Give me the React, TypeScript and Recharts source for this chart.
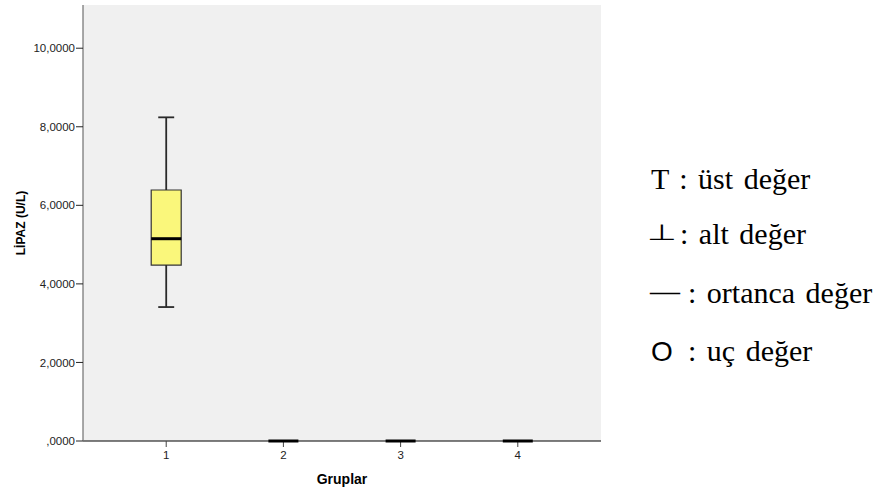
import React from 'react';
import {
  ComposedChart,
  XAxis,
  YAxis,
  CartesianGrid,
  ReferenceArea,
  ReferenceLine,
  Scatter,
} from 'recharts';

// ---- data ----
const groups = [1, 2, 3, 4];
const mins = [3.41, 0, 0, 0];
const q1s = [4.48, 0, 0, 0];
const medians = [5.15, 0, 0, 0];
const q3s = [6.39, 0, 0, 0];
const maxs = [8.24, 0, 0, 0];
const yTicks = [0, 2, 4, 6, 8, 10];
const xTicks = [1, 2, 3, 4];
const yLabel = 'LİPAZ (U/L)';
const xLabel = 'Gruplar';
const legendRows = ['T : üst değer', ': alt değer', ': ortanca değer', ': uç değer'];

const data = groups.map((g, i) => ({
  group: g,
  min: mins[i],
  q1: q1s[i],
  median: medians[i],
  q3: q3s[i],
  max: maxs[i],
}));

// styling constants
const BOX_HALF = 0.128;
const CAP_HALF = 0.068;
const X_DOMAIN: [number, number] = [0.29, 4.71];
const Y_DOMAIN: [number, number] = [0, 11.1];
const SANS = '"Liberation Sans", Arial, sans-serif';
const SERIF = '"Liberation Serif", "Times New Roman", serif';

const fmtY = (v: number) => (v === 0 ? ',0000' : v.toFixed(4).replace('.', ','));

const MedianShape = (props: any) => {
  const { cx, cy } = props;
  if (cx == null || cy == null) return null;
  return <line x1={cx - 15} x2={cx + 15} y1={cy} y2={cy} stroke="#000" strokeWidth={3} />;
};

const legendStyle: React.CSSProperties = { whiteSpace: 'pre', wordSpacing: 3 };

export default function App() {
  return (
    <div style={{ position: 'absolute', left: 0, top: 0, width: 882, height: 493, background: '#fff' }}>
      <ComposedChart
        width={882}
        height={493}
        data={data}
        margin={{ top: 5, right: 281, left: 0, bottom: 0 }}
      >
        <CartesianGrid horizontal={false} vertical={false} fill="#F0F0F0" fillOpacity={1} />
        <XAxis
          xAxisId="top"
          orientation="top"
          type="number"
          dataKey="group"
          domain={X_DOMAIN}
          ticks={[]}
          tick={false}
          height={0}
          axisLine={{ stroke: '#707070', strokeWidth: 1.2 }}
          tickLine={false}
        />
        <YAxis
          yAxisId="right"
          orientation="right"
          type="number"
          domain={Y_DOMAIN}
          ticks={[]}
          tick={false}
          width={0}
          axisLine={{ stroke: '#707070', strokeWidth: 1.2 }}
          tickLine={false}
        />
        <XAxis
          type="number"
          dataKey="group"
          domain={X_DOMAIN}
          ticks={xTicks}
          height={52}
          tickSize={6}
          tickMargin={4}
          axisLine={{ stroke: '#000', strokeWidth: 1.2 }}
          tickLine={{ stroke: '#444', strokeWidth: 1 }}
          tick={{ fontSize: 11.5, fill: '#222', fontFamily: SANS }}
          label={{
            value: xLabel,
            position: 'insideBottom',
            offset: 9,
            style: { fontSize: 14, fontWeight: 'bold', fill: '#000', fontFamily: SANS },
          }}
        />
        <YAxis
          type="number"
          domain={Y_DOMAIN}
          ticks={yTicks}
          width={83}
          tickSize={7}
          tickMargin={1}
          tickFormatter={fmtY}
          axisLine={{ stroke: '#707070', strokeWidth: 1.2 }}
          tickLine={{ stroke: '#222', strokeWidth: 1 }}
          tick={{ fontSize: 11.5, fill: '#222', fontFamily: SANS }}
          label={{
            value: yLabel,
            angle: -90,
            position: 'insideLeft',
            offset: 21,
            style: { fontSize: 12, fontWeight: 'bold', fill: '#000', fontFamily: SANS, textAnchor: 'middle' },
          }}
        />
        {data.map((d) => (
          <ReferenceArea
            key={`box-${d.group}`}
            x1={d.group - BOX_HALF}
            x2={d.group + BOX_HALF}
            y1={d.q1}
            y2={d.q3}
            fill="#FAF77B"
            fillOpacity={1}
            stroke="#333"
            strokeWidth={1.2}
            ifOverflow="visible"
          />
        ))}
        {data.map((d) => (
          <ReferenceLine
            key={`wu-${d.group}`}
            segment={[{ x: d.group, y: d.q3 }, { x: d.group, y: d.max }]}
            stroke="#2a2a2a"
            strokeWidth={1.8}
            ifOverflow="visible"
          />
        ))}
        {data.map((d) => (
          <ReferenceLine
            key={`wl-${d.group}`}
            segment={[{ x: d.group, y: d.min }, { x: d.group, y: d.q1 }]}
            stroke="#2a2a2a"
            strokeWidth={1.8}
            ifOverflow="visible"
          />
        ))}
        {data.map((d) => (
          <ReferenceLine
            key={`cu-${d.group}`}
            segment={[{ x: d.group - CAP_HALF, y: d.max }, { x: d.group + CAP_HALF, y: d.max }]}
            stroke="#2a2a2a"
            strokeWidth={1.8}
            ifOverflow="visible"
          />
        ))}
        {data.map((d) => (
          <ReferenceLine
            key={`cl-${d.group}`}
            segment={[{ x: d.group - CAP_HALF, y: d.min }, { x: d.group + CAP_HALF, y: d.min }]}
            stroke="#2a2a2a"
            strokeWidth={1.8}
            ifOverflow="visible"
          />
        ))}
        <Scatter dataKey="median" isAnimationActive={false} shape={<MedianShape />} />
      </ComposedChart>
      <svg
        width={882}
        height={493}
        style={{ position: 'absolute', left: 0, top: 0, pointerEvents: 'none' }}
      >
        <text x={651} y={189} fontFamily={SERIF} fontSize={30} fill="#000" style={legendStyle}>
          {legendRows[0]}
        </text>
        <text
          x={0}
          y={0}
          fontFamily='"DejaVu Sans", sans-serif'
          fontSize={31}
          fill="#000"
          transform="translate(647 240) scale(1.1 0.72)"
        >
          ⊥
        </text>
        <text x={680} y={244} fontFamily={SERIF} fontSize={30} fill="#000" style={legendStyle}>
          {legendRows[1]}
        </text>
        <text x={650} y={301} fontFamily={SERIF} fontSize={30} fill="#000">
          —
        </text>
        <text x={688} y={303} fontFamily={SERIF} fontSize={30} fill="#000" style={legendStyle}>
          {legendRows[2]}
        </text>
        <text x={651} y={361} fontFamily={SANS} fontSize={28} fill="#000">
          O
        </text>
        <text x={688} y={361} fontFamily={SERIF} fontSize={30} fill="#000" style={legendStyle}>
          {legendRows[3]}
        </text>
      </svg>
    </div>
  );
}
